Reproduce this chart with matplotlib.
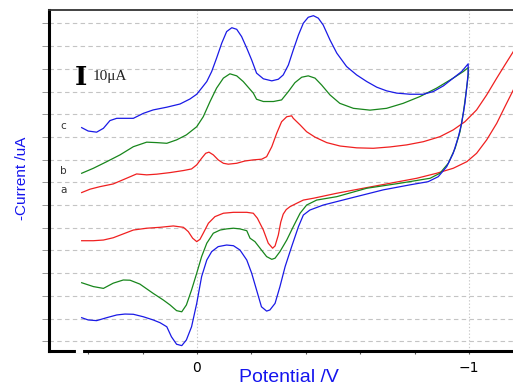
import matplotlib
matplotlib.use("Agg")
import matplotlib.pyplot as plt
from matplotlib import font_manager
from matplotlib.lines import Line2D

# --- data: potential (V) and current (uA, curves stacked with offsets) ---
# each curve: forward scan (upper branch) then return scan (lower branch)

# curve a (red)
pot_a = [0.424, 0.393, 0.357, 0.308, 0.259, 0.222, 0.185, 0.148, 0.099, 0.050, 0.020,
         0.001, -0.017, -0.032, -0.044, -0.060, -0.078, -0.097, -0.115, -0.146, -0.176,
         -0.207, -0.238, -0.256, -0.275, -0.293, -0.311, -0.330, -0.348, -0.354, -0.379,
         -0.403, -0.434, -0.477, -0.526, -0.587, -0.648, -0.710, -0.771, -0.832, -0.893,
         -0.942, -0.985, -1.028, -1.065, -1.102, -1.132, -1.163, -1.20,
         -1.20, -1.163, -1.132, -1.102, -1.065, -1.028, -0.992, -0.942, -0.881, -0.808,
         -0.710, -0.611, -0.514, -0.428, -0.391, -0.367, -0.342, -0.328, -0.317, -0.308,
         -0.299, -0.287, -0.278, -0.262, -0.244, -0.222, -0.207, -0.183, -0.134, -0.097,
         -0.066, -0.042, -0.023, -0.011, 0.001, 0.016, 0.032, 0.050, 0.087, 0.136,
         0.185, 0.234, 0.271, 0.308, 0.344, 0.381, 0.424]
cur_a = [65.5, 67.0, 68.1, 69.3, 71.8, 73.7, 73.3, 73.6, 74.3, 75.2, 75.9,
         77.7, 80.6, 82.8, 83.3, 82.1, 79.9, 78.4, 78.0, 78.4, 79.4,
         79.9, 80.2, 81.3, 85.7, 91.6, 96.7, 98.9, 99.3, 98.2, 95.3,
         92.3, 89.9, 87.5, 86.0, 85.2, 85.0, 85.6, 86.5, 87.9, 90.1,
         93.1, 96.7, 101.9, 108.5, 115.9, 121.7, 127.6, 136.5,
         121.0, 110.7, 103.3, 96.0, 88.7, 82.8, 79.1, 76.2, 74.0, 71.8,
         69.6, 67.4, 65.2, 63.0, 62.2, 60.8, 59.3, 58.0, 56.0, 52.5,
         46.8, 42.0, 41.0, 43.2, 49.0, 54.2, 56.4, 56.8, 56.8, 56.4,
         54.9, 52.0, 47.6, 44.9, 43.9, 45.4, 48.3, 50.2, 50.8, 50.2,
         49.8, 49.0, 47.3, 45.6, 44.6, 44.3, 44.3]

# curve b (green)
pot_b = [0.424, 0.381, 0.332, 0.283, 0.234, 0.185, 0.148, 0.111, 0.075, 0.039, 0.001,
         -0.023, -0.048, -0.072, -0.097, -0.121, -0.146, -0.170, -0.207, -0.219, -0.244,
         -0.281, -0.311, -0.336, -0.360, -0.385, -0.409, -0.434, -0.458, -0.489, -0.525,
         -0.575, -0.636, -0.697, -0.758, -0.820, -0.881, -0.942, -0.979, -0.997,
         -0.997, -0.989, -0.979, -0.967, -0.949, -0.924, -0.893, -0.857, -0.746, -0.624,
         -0.514, -0.440, -0.403, -0.379, -0.354, -0.330, -0.305, -0.287, -0.275, -0.256,
         -0.237, -0.213, -0.195, -0.183, -0.158, -0.134, -0.109, -0.085, -0.060, -0.036,
         -0.017, 0.001, 0.020, 0.039, 0.056, 0.075, 0.099, 0.124, 0.161, 0.210,
         0.246, 0.271, 0.308, 0.344, 0.381, 0.424]
cur_b = [74.0, 76.2, 79.1, 82.1, 85.7, 87.7, 87.5, 87.2, 88.7, 90.9, 94.5,
         98.9, 105.6, 111.5, 115.9, 117.8, 116.9, 114.4, 109.3, 106.6, 105.6,
         105.6, 106.3, 110.0, 113.9, 116.3, 116.9, 115.9, 112.9, 108.5, 104.8,
         102.6, 101.8, 102.6, 104.8, 107.8, 111.5, 115.9, 118.8, 120.5,
         117.0, 109.3, 100.4, 92.3, 85.0, 78.4, 74.0, 71.8, 69.6, 67.4,
         63.7, 62.2, 60.0, 56.4, 50.5, 44.6, 39.5, 36.6, 36.1, 37.3,
         40.2, 43.9, 45.4, 48.7, 49.5, 49.8, 49.5, 49.0, 47.6, 43.2,
         37.3, 30.0, 22.6, 16.0, 13.0, 13.5, 16.0, 18.2, 21.1, 25.2,
         26.9, 27.0, 25.6, 23.3, 24.1, 25.8]

# curve c (blue)
pot_c = [0.424, 0.400, 0.369, 0.344, 0.320, 0.295, 0.234, 0.197, 0.161, 0.111, 0.0625,
         0.026, 0.001, -0.017, -0.036, -0.054, -0.072, -0.091, -0.109, -0.128, -0.146,
         -0.164, -0.183, -0.201, -0.219, -0.244, -0.275, -0.299, -0.317, -0.336, -0.354,
         -0.373, -0.391, -0.409, -0.428, -0.446, -0.464, -0.489, -0.514, -0.550, -0.587,
         -0.624, -0.661, -0.697, -0.734, -0.783, -0.832, -0.869, -0.906, -0.942, -0.973,
         -0.997,
         -0.997, -0.992, -0.985, -0.973, -0.961, -0.942, -0.918, -0.887, -0.850, -0.783,
         -0.685, -0.5625, -0.464, -0.415, -0.391, -0.373, -0.348, -0.324, -0.305, -0.287,
         -0.268, -0.256, -0.237, -0.219, -0.201, -0.183, -0.158, -0.134, -0.109, -0.078,
         -0.054, -0.036, -0.017, 0.001, 0.020, 0.039, 0.056, 0.075, 0.094, 0.111,
         0.136, 0.161, 0.197, 0.234, 0.265, 0.295, 0.332, 0.369, 0.400, 0.424]
cur_c = [94.1, 92.6, 92.1, 93.8, 97.2, 98.2, 98.2, 100.4, 101.9, 103.1, 104.5,
         106.7, 108.8, 111.5, 114.4, 118.8, 124.7, 131.3, 136.4, 138.1, 137.4,
         134.2, 129.1, 123.9, 118.1, 115.6, 114.7, 115.4, 117.3, 121.7, 128.3,
         134.9, 140.1, 142.7, 143.4, 142.3, 139.3, 132.7, 126.9, 121.0, 117.3,
         114.4, 111.9, 110.3, 109.3, 108.8, 108.8, 110.0, 112.5, 115.9, 118.8,
         122.2,
         118.1, 112.2, 104.8, 96.0, 90.1, 82.8, 76.9, 72.5, 70.3, 68.9,
         66.7, 63.0, 60.0, 57.8, 55.6, 50.5, 41.7, 32.9, 24.1, 16.7,
         13.8, 13.3, 15.2, 22.6, 30.0, 35.8, 40.2, 42.1, 42.4, 41.7,
         39.5, 35.8, 28.5, 16.7, 6.4, 0.6, -1.9, -1.3, 2.0, 6.4,
         8.2, 9.4, 10.8, 11.9, 12.0, 11.6, 10.4, 9.1, 9.4, 10.4]

curve_labels = ["a", "b", "c"]
label_pos = [(0.49, 66.5), (0.49, 75.0), (0.49, 95.0)]

grid_levels = list(range(0, 150, 10))

fig = plt.figure(figsize=(5.13, 3.87), dpi=100)
ax = fig.add_axes([49 / 513, 1 - 351 / 387, 1 - 49 / 513, 341 / 387])

for y in grid_levels:
    ax.axhline(y, color="#c4c4c4", lw=0.8, dashes=(4, 3), zorder=0)
for x in [0, -1]:
    ax.axvline(x, color="#c8c8c8", lw=0.8, dashes=(1.2, 1.8), zorder=0)

ax.plot(pot_a, cur_a, color="#f02020", lw=0.9)
ax.plot(pot_b, cur_b, color="#18861c", lw=0.9)
ax.plot(pot_c, cur_c, color="#1a1ae6", lw=0.9)

for lab, (xx, yy) in zip(curve_labels, label_pos):
    ax.text(xx, yy, lab, fontsize=7.5, family="DejaVu Sans", color="#333333",
            ha="center", va="center")

# scale bar 10 uA
ax.text(0.427, 116, "I", fontsize=19, family="DejaVu Serif", weight="bold",
        ha="center", va="center")
ax.text(0.385, 116.5, "10\u03bcA", fontsize=11, family="Liberation Serif",
        ha="left", va="center", color="#222222")

ax.set_xlim(0.5441, -1.1618)
ax.set_ylim(-4.27, 145.9)

ax.set_xticks([0, -1])
ax.set_xticklabels(["0", "\u22121"])
ax.set_xticks([0.4, 0.2, -0.2, -0.4, -0.6, -0.8], minor=True)
ax.set_yticks(grid_levels)
ax.set_yticklabels([])
ax.tick_params(axis="x", which="both", length=2, width=0.8, color="#555555",
               labelsize=10, pad=5)
ax.tick_params(axis="y", length=5, width=0.7, color="#999999")

ax.spines["right"].set_visible(False)
ax.spines["left"].set_linewidth(2.2)
ax.spines["bottom"].set_linewidth(2.2)
ax.spines["top"].set_linewidth(1.3)
ax.spines["top"].set_color("#333333")

# small break in the bottom axis line
fig.add_artist(Line2D([78 / 513, 80.5 / 513], [1 - 351 / 387] * 2, color="white", lw=3))

names = {f.name for f in font_manager.fontManager.ttflist}
if "Liberation Sans Narrow" in names:
    yfam, ysize = "Liberation Sans Narrow", 12.5
else:
    yfam, ysize = "Liberation Sans", 11
fig.text(22 / 513, 1 - 178 / 387, "-Current /uA", rotation=90, family=yfam,
         fontsize=ysize, color="#1515ee", ha="center", va="center")
fig.text(289 / 513, 1 - 378 / 387, "Potential /V", family="Liberation Sans",
         fontsize=14, color="#1515ee", ha="center", va="center")

fig.savefig("out.png", dpi=100)
